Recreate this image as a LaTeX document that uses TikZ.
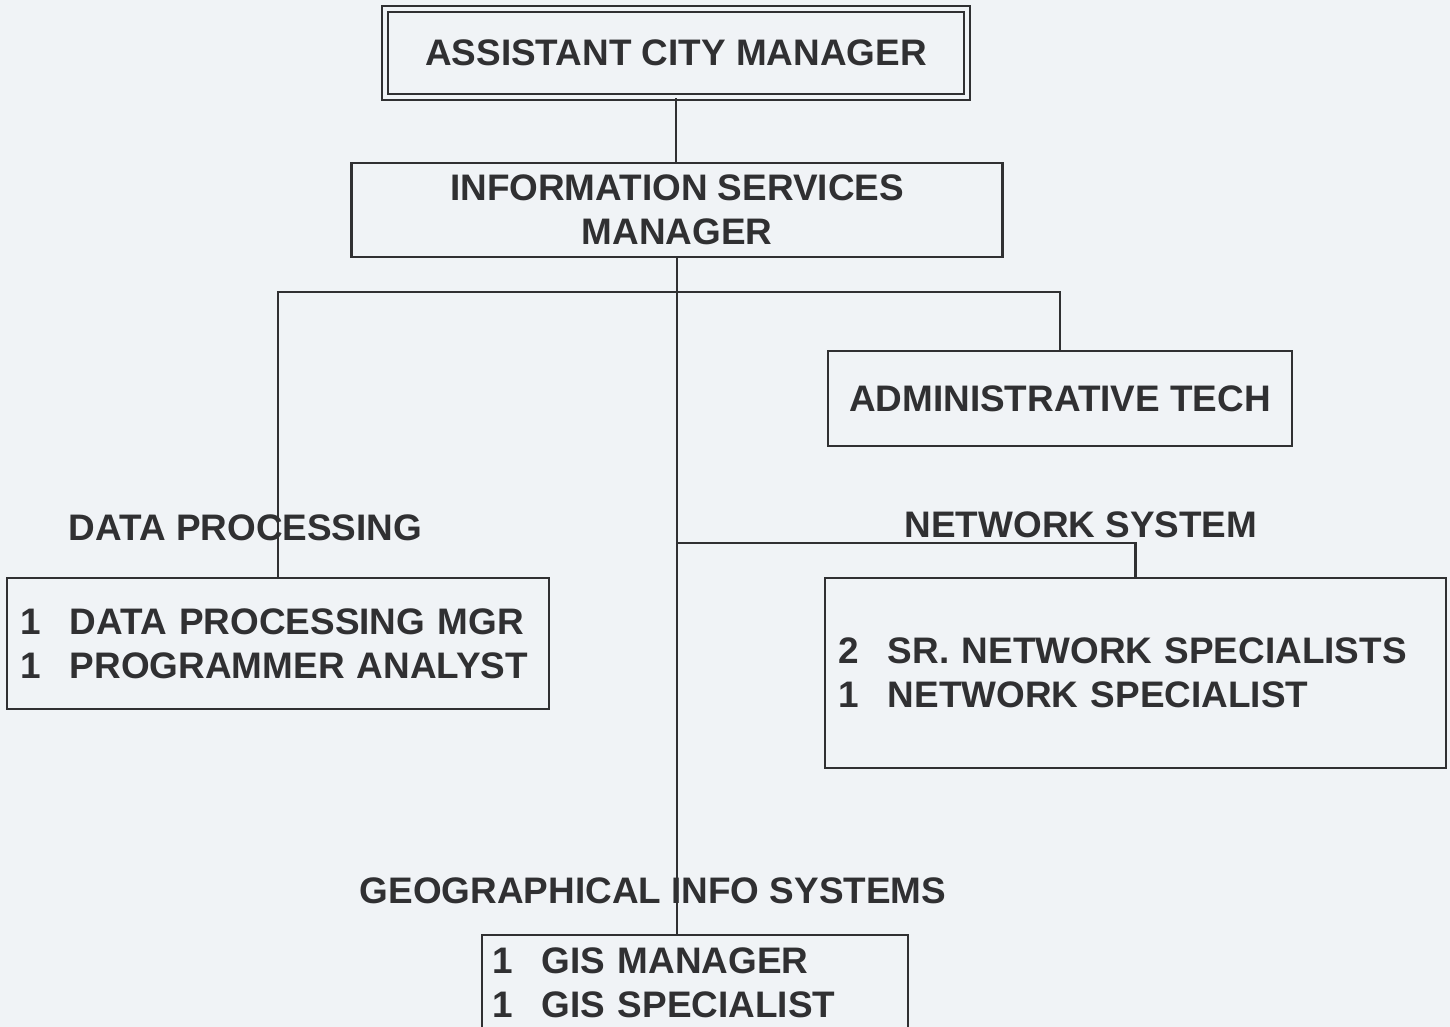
\documentclass[tikz,border=0pt]{standalone}
\usepackage{fontspec}
\setmainfont{Liberation Sans}
\usepackage{tikz}
\tikzstyle{chief} = [rectangle, draw=ink, double=paper, double distance=1.2pt, line width=0.6pt, minimum width=58.2mm, minimum height=8.8mm, text=ink, font=\orgfont]
\tikzstyle{post} = [rectangle, draw=ink, line width=0.6pt, text=ink, font=\orgfont, align=center]
\tikzstyle{staff} = [rectangle, draw=ink, line width=0.6pt, text=ink, font=\orgfont, align=left]
\tikzstyle{unit} = [text=ink, font=\orgfont, anchor=base, inner sep=0pt]
\tikzstyle{link} = [line width=0.6pt, draw=ink]
\definecolor{ink}{RGB}{48,48,50}
\definecolor{paper}{RGB}{240,243,246}
\newcommand{\orgfont}{\fontsize{10.5pt}{12.5pt}\selectfont\bfseries}
\newcommand{\num}[1]{\makebox[5mm][l]{#1}}

\begin{document}
\begin{tikzpicture}[x=0.1mm, y=-0.1mm]
\useasboundingbox (0,0) rectangle (1450,1027);
\fill[paper] (0,0) rectangle (1450,1027);
\node (acm) [chief] at (676,53) {ASSISTANT CITY MANAGER};
\node (ism) [post, minimum width=65.1mm, minimum height=9.4mm] at (677,210) {INFORMATION SERVICES\\MANAGER};
\node (admin) [post, minimum width=46.4mm, minimum height=9.5mm] at (1060,398.5) {ADMINISTRATIVE TECH};
\node (dplabel) [unit] at (245.5,540) {DATA PROCESSING};
\node (dpbox) [staff, inner xsep=1.3mm, text width=51.6mm, minimum height=13.1mm] at (278,643.5) {\num{1}DATA PROCESSING MGR\\\num{1}PROGRAMMER ANALYST};
\node (netlabel) [unit] at (1081,537) {NETWORK SYSTEM};
\node (netbox) [staff, inner xsep=1.3mm, text width=59.5mm, minimum height=19mm] at (1135.5,673) {\num{2}SR. NETWORK SPECIALISTS\\\num{1}NETWORK SPECIALIST};
\node (gislabel) [unit] at (653,903) {GEOGRAPHICAL INFO SYSTEMS};
\node (gisbox) [staff, inner xsep=1.0mm, text width=40.6mm, minimum height=9.6mm] at (695,983) {\num{1}GIS MANAGER\\\num{1}GIS SPECIALIST};
\coordinate (split) at (677,292);
\coordinate (netsplit) at (677,543);
% connectors
\draw[link] (acm) -- (acm |- ism.north);
\draw[link] (ism.south) -- (ism.south |- gisbox.north);
\draw[link] (dpbox.north) |- (split) -| (admin.north);
\draw[link] (netsplit) -| (netbox.north);
\end{tikzpicture}
\end{document}
